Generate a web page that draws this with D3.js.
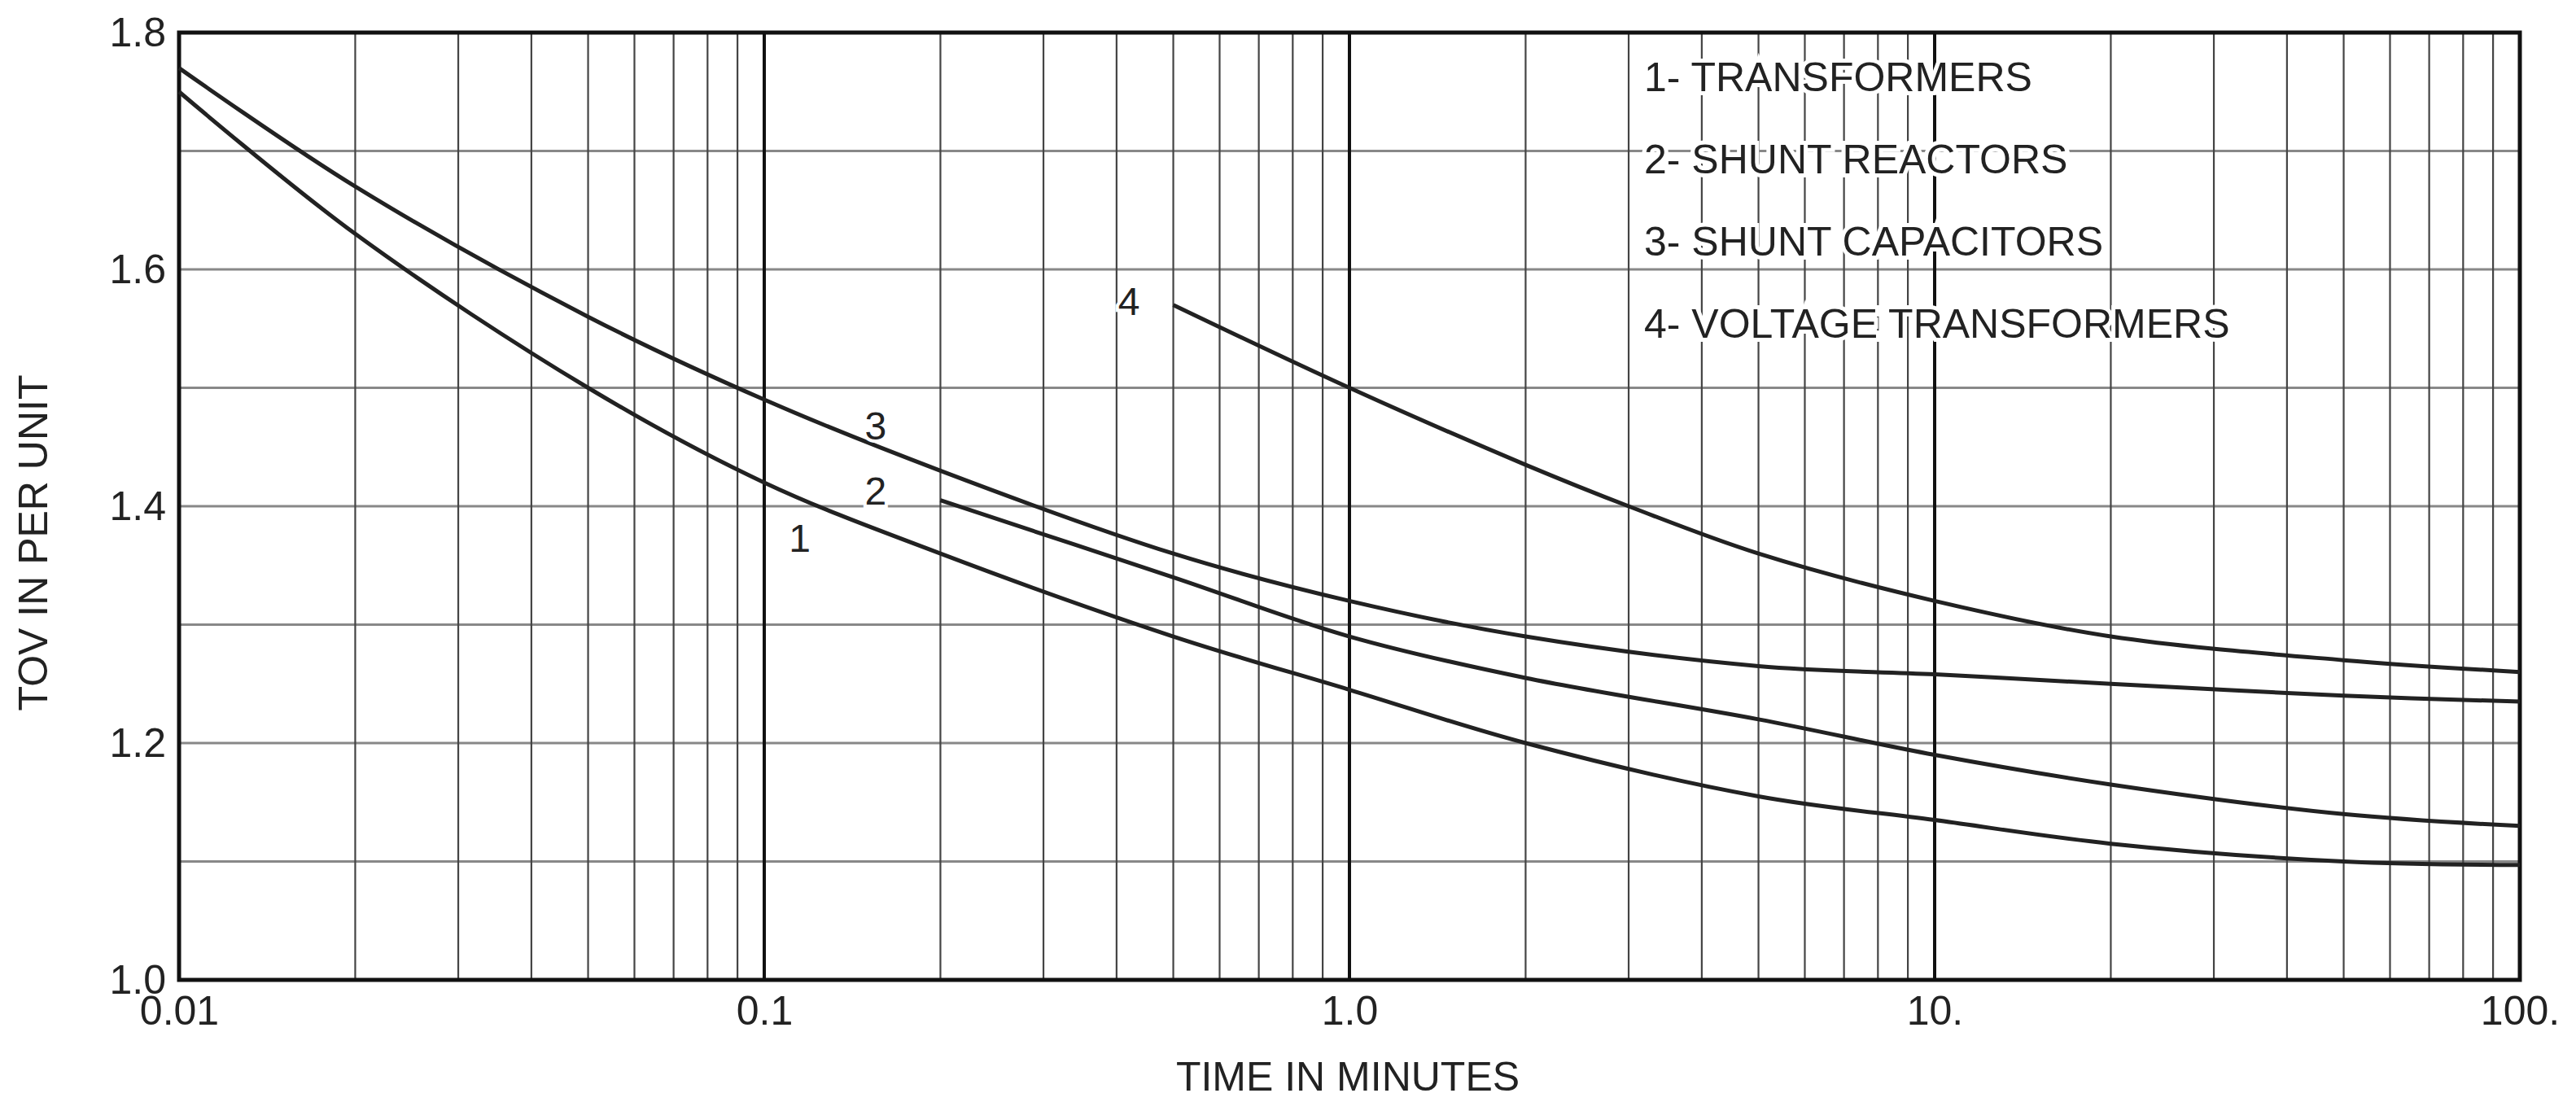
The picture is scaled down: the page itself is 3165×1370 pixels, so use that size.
<!DOCTYPE html>
<html>
<head>
<meta charset="utf-8">
<script src="https://cdn.jsdelivr.net/npm/d3@7"></script>
<style>
  body { margin: 0; background: #fff; }
  text { font-family: "Liberation Sans Narrow", "Liberation Sans", Arial, sans-serif; fill: #222; }
</style>
</head>
<body>
<div id="chart"></div>
<script>
// TOV capability curves
const times1 = [0.01, 0.02, 0.05, 0.1, 0.2, 0.5, 1, 2, 5, 10, 20, 50, 100];
const tov1   = [1.75, 1.63, 1.50, 1.42, 1.36, 1.29, 1.245, 1.20, 1.155, 1.135, 1.115, 1.10, 1.097];
const times2 = [0.2, 0.5, 1, 2, 5, 10, 20, 50, 100];
const tov2   = [1.405, 1.34, 1.29, 1.255, 1.22, 1.19, 1.165, 1.14, 1.13];
const times3 = [0.01, 0.02, 0.05, 0.1, 0.2, 0.5, 1, 2, 5, 10, 20, 50, 100];
const tov3   = [1.77, 1.67, 1.56, 1.49, 1.43, 1.36, 1.32, 1.29, 1.265, 1.258, 1.25, 1.24, 1.235];
const times4 = [0.5, 1, 2, 3, 5, 10, 20, 50, 100];
const tov4   = [1.57, 1.50, 1.435, 1.40, 1.36, 1.32, 1.29, 1.27, 1.26];

const curveIds = ['1', '2', '3', '4'];
const labelTimes = [0.115, 0.155, 0.155, 0.42];
const labelTov   = [1.37, 1.41, 1.465, 1.57];
const legendItems = ['1- TRANSFORMERS', '2- SHUNT REACTORS', '3- SHUNT CAPACITORS', '4- VOLTAGE TRANSFORMERS'];
const xTickValues = [0.01, 0.1, 1, 10, 100];
const xTickLabels = ['0.01', '0.1', '1.0', '10.', '100.'];
const yTickValues = [1.0, 1.2, 1.4, 1.6, 1.8];

const W = 3165, H = 1370;
const margin = { left: 220, right: 69, top: 40, bottom: 166 };

const svg = d3.select('#chart').append('svg')
  .attr('width', W)
  .attr('height', H);

const x = d3.scaleLog().domain([0.01, 100]).range([margin.left, W - margin.right]);
const y = d3.scaleLinear().domain([1.0, 1.8]).range([H - margin.bottom, margin.top]);

// horizontal grid every 0.1
const g = svg.append('g');
g.selectAll('.hgrid')
  .data(d3.range(1.1, 1.8, 0.1))
  .enter().append('line')
  .attr('x1', x(0.01)).attr('x2', x(100))
  .attr('y1', d => y(d)).attr('y2', d => y(d))
  .attr('stroke', '#888').attr('stroke-width', 3);

// vertical log grid
const minor = [];
[0.01, 0.1, 1, 10].forEach(dec => { for (let k = 2; k <= 9; k++) minor.push(dec * k); });
g.selectAll('.vgrid')
  .data(minor)
  .enter().append('line')
  .attr('x1', d => x(d)).attr('x2', d => x(d))
  .attr('y1', y(1.0)).attr('y2', y(1.8))
  .attr('stroke', '#444').attr('stroke-width', 2.2);

g.selectAll('.decade')
  .data([0.1, 1, 10])
  .enter().append('line')
  .attr('x1', d => x(d)).attr('x2', d => x(d))
  .attr('y1', y(1.0)).attr('y2', y(1.8))
  .attr('stroke', '#111').attr('stroke-width', 4);

// frame
svg.append('rect')
  .attr('x', x(0.01)).attr('y', y(1.8))
  .attr('width', x(100) - x(0.01)).attr('height', y(1.0) - y(1.8))
  .attr('fill', 'none').attr('stroke', '#111').attr('stroke-width', 5);

// legend (white behind text like the original)
const legend = svg.append('g');
legendItems.forEach((t, i) => {
  legend.append('text')
    .attr('x', 2020).attr('y', 112 + i * 101)
    .attr('font-size', 50)
    .attr('stroke', '#fff').attr('stroke-width', 10).attr('paint-order', 'stroke')
    .text(t);
});

// curves
const line = d3.line()
  .x(d => x(d[0])).y(d => y(d[1]))
  .curve(d3.curveCatmullRom.alpha(0.5));
const series = [[times1, tov1], [times2, tov2], [times3, tov3], [times4, tov4]];
series.forEach(s => {
  svg.append('path')
    .datum(d3.zip(s[0], s[1]))
    .attr('d', line)
    .attr('fill', 'none').attr('stroke', '#222').attr('stroke-width', 5);
});

curveIds.forEach((id, i) => {
  svg.append('text')
    .attr('x', x(labelTimes[i])).attr('y', y(labelTov[i]))
    .attr('text-anchor', 'middle').attr('dominant-baseline', 'middle')
    .attr('font-size', 48)
    .attr('stroke', '#fff').attr('stroke-width', 8).attr('paint-order', 'stroke')
    .text(id);
});

// axes labels
const xAxis = d3.axisBottom(x).tickValues(xTickValues)
  .tickFormat((d, i) => xTickLabels[i]).tickSize(0).tickPadding(12);
svg.append('g').attr('transform', `translate(0,${y(1.0)})`).call(xAxis)
  .call(a => a.select('.domain').remove())
  .selectAll('text').attr('font-size', 50).attr('dy', '0.85em');

const yAxis = d3.axisLeft(y).tickValues(yTickValues)
  .tickFormat(d3.format('.1f')).tickSize(0).tickPadding(16);
svg.append('g').attr('transform', `translate(${x(0.01)},0)`).call(yAxis)
  .call(a => a.select('.domain').remove())
  .selectAll('text').attr('font-size', 50);

svg.append('text')
  .attr('x', 1656).attr('y', 1340)
  .attr('text-anchor', 'middle').attr('font-size', 50)
  .text('TIME IN MINUTES');

svg.append('text')
  .attr('transform', 'translate(58,667) rotate(-90)')
  .attr('text-anchor', 'middle').attr('font-size', 50)
  .text('TOV IN PER UNIT');
</script>
</body>
</html>
